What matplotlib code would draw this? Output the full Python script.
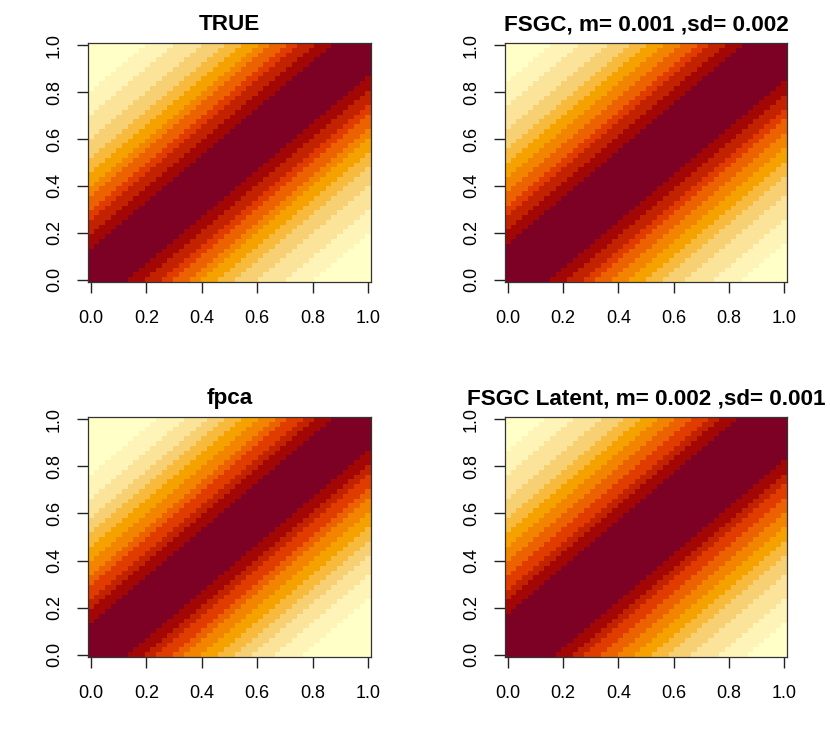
import numpy as np
import matplotlib
matplotlib.use("Agg")
import matplotlib.pyplot as plt
from matplotlib.colors import ListedColormap

plt.rcParams['font.family'] = ['Liberation Sans', 'DejaVu Sans']

# panel titles
titles = ["TRUE", "FSGC, m= 0.001 ,sd= 0.002",
          "fpca", "FSGC Latent, m= 0.002 ,sd= 0.001"]

# grid of the surfaces (50 x 50 on [0, 1])
n_grid = 50

# colour level (0..11) drops by one at each of these distances
# from the diagonal, counted in grid cells
edges_true = [7, 10, 13, 15, 18, 20, 23, 26, 30, 35, 40]
edges_fsgc = [8, 11, 14, 16, 19, 22, 25, 28, 32, 37, 42]
edges_fpca = [7, 10, 12, 15, 17, 20, 23, 26, 29, 33, 38]
edges_latent = [9, 12, 14, 17, 20, 23, 26, 29, 33, 38, 43]

tick_vals = [0.0, 0.2, 0.4, 0.6, 0.8, 1.0]
tick_labels = ["0.0", "0.2", "0.4", "0.6", "0.8", "1.0"]


def yl_or_rd(n):
    # R's hcl.colors(n, "YlOrRd", rev = TRUE)
    h1, h2, c1, c2, cmax, l1, l2, p1, p2 = 5, 85, 75, 40, 180, 25, 99, 1.6, 1.3
    i = np.linspace(1, 0, n)
    j = 1 / (1 + abs(cmax - c1) / abs(cmax - c2))
    ip = i ** p1
    c = np.where(ip <= j, c2 + (cmax - c2) * ip / j,
                 cmax - (cmax - c1) * (ip - j) / (1 - j))
    h = h2 - (h2 - h1) * i
    L = l2 - (l2 - l1) * i ** p2
    U = c * np.cos(np.radians(h))
    V = c * np.sin(np.radians(h))
    Y = 100 * np.where(L > 7.999592, ((L + 16) / 116) ** 3, L / 903.3)
    u = U / (13 * L) + 0.1978398
    v = V / (13 * L) + 0.4683363
    X = 9.0 * Y * u / (4 * v)
    Z = -X / 3 - 5 * Y + 3 * Y / v

    def gtrans(a):
        return np.where(a > 0.00304, 1.055 * np.abs(a) ** (1 / 2.4) - 0.055, 12.92 * a)

    r = gtrans((3.240479 * X - 1.537150 * Y - 0.498535 * Z) / 100)
    g = gtrans((-0.969256 * X + 1.875992 * Y + 0.041556 * Z) / 100)
    b = gtrans((0.055648 * X - 0.204043 * Y + 1.057311 * Z) / 100)
    rgb = np.clip(np.column_stack([r, g, b]), 0, 1)
    return rgb[::-1]


cmap = ListedColormap(yl_or_rd(12))


def surface(edges):
    d = np.abs(np.arange(n_grid)[:, None] - np.arange(n_grid)[None, :])
    level = 11 - (d[..., None] >= np.array(edges)[None, None, :]).sum(-1)
    return level


half = 0.5 / (n_grid - 1)
cell_edges = np.linspace(-half, 1 + half, n_grid + 1)

fig = plt.figure(figsize=(8.3, 7.47), dpi=100)
W, H = 830, 747
boxes = [(88, 43, 371, 282), (505, 43, 787, 282),
         (88, 417, 371, 657), (505, 417, 787, 657)]
all_edges = [edges_true, edges_fsgc, edges_fpca, edges_latent]

for (x0, y0, x1, y1), title, edges in zip(boxes, titles, all_edges):
    ax = fig.add_axes([x0 / W, 1 - y1 / H, (x1 - x0) / W, (y1 - y0) / H])
    z = surface(edges)
    ax.pcolormesh(cell_edges, cell_edges, z.T, cmap=cmap, vmin=-0.5, vmax=11.5,
                  antialiased=False, shading="flat")
    ax.set_xlim(-half, 1 + half)
    ax.set_ylim(-half, 1 + half)
    ax.set_xticks(tick_vals)
    ax.set_xticklabels(tick_labels)
    ax.set_yticks(tick_vals)
    ax.set_yticklabels(tick_labels, rotation=90, va="center")
    ax.tick_params(axis="both", direction="out", length=8, width=1.0,
                   labelsize=13, color="#222222")
    ax.tick_params(axis="x", pad=12)
    ax.tick_params(axis="y", pad=10)
    for s in ax.spines.values():
        s.set_color("#333333")
        s.set_linewidth(0.9)
    ax.set_title(title, fontsize=16.2, fontweight="bold", pad=9)

fig.savefig("out.png", dpi=100)
